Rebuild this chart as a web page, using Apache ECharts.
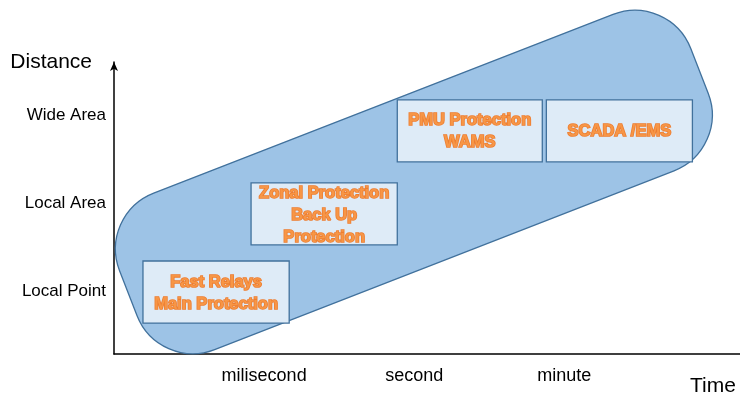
<!DOCTYPE html>
<html>
<head>
<meta charset="utf-8">
<style>
  html, body { margin: 0; padding: 0; background: #ffffff; }
  #chart { width: 740px; height: 393px; }
</style>
<script src="https://cdn.jsdelivr.net/npm/echarts@6/dist/echarts.min.js"></script>
</head>
<body>
<div id="chart"></div>
<script>
// Time scale tick labels (x) and distance scale tick labels (y)
const timeTicks = ['milisecond', 'second', 'minute'];
const distanceTicks = ['Local Point', 'Local Area', 'Wide Area'];
const tickValues = [1, 2, 3];

// Envelope band: centre of its lower-left end and of its upper-right end [time, distance]
const bandStart = [0.095, 0.98];
const bandEnd = [3.9, 3.5];

// Protection / control schemes and the time & distance span each covers
const schemeLabels = [
  'Fast Relays\nMain Protection',
  'Zonal Protection\nBack Up\nProtection',
  'PMU Protection\nWAMS',
  'SCADA /EMS'
];
const schemeTimeFrom = [0.193, 0.913, 1.887, 2.880];
const schemeTimeTo   = [1.167, 1.887, 2.853, 3.853];
const schemeDistFrom = [0.641, 1.526, 2.467, 2.467];
const schemeDistTo   = [1.344, 2.229, 3.170, 3.170];

const FONT = '"Liberation Sans", Arial, sans-serif';

const chart = echarts.init(document.getElementById('chart'), null, { renderer: 'canvas' });

const schemeData = schemeLabels.map((label, i) => [
  schemeTimeFrom[i], schemeTimeTo[i], schemeDistFrom[i], schemeDistTo[i], label
]);

chart.setOption({
  animation: false,
  backgroundColor: '#ffffff',
  grid: { left: 114, right: 0, top: 62, bottom: 39, containLabel: false, outerBoundsMode: 'none' },
  xAxis: {
    type: 'value',
    min: 0,
    max: 4.17,
    name: 'Time',
    nameLocation: 'end',
    nameGap: -50,
    nameTextStyle: {
      fontFamily: FONT, fontSize: 21, color: '#000',
      align: 'left', verticalAlign: 'top', padding: [22, 0, 0, 0]
    },
    axisLine: { show: true, lineStyle: { color: '#000', width: 1.5 } },
    axisTick: { show: false },
    splitLine: { show: false },
    axisLabel: {
      customValues: tickValues,
      formatter: v => timeTicks[Math.round(v) - 1] || '',
      fontFamily: FONT, fontSize: 18, color: '#000', margin: 13
    }
  },
  yAxis: {
    type: 'value',
    min: 0.29,
    max: 3.6,
    name: 'Distance',
    nameLocation: 'end',
    nameGap: 0,
    nameTextStyle: {
      fontFamily: FONT, fontSize: 21, color: '#000',
      align: 'right', verticalAlign: 'middle', padding: [0, 22, 0, 0]
    },
    axisLine: {
      show: true,
      symbol: ['none', 'arrow'],
      symbolSize: [6, 9],
      lineStyle: { color: '#000', width: 1.5 }
    },
    axisTick: { show: false },
    splitLine: { show: false },
    axisLabel: {
      customValues: tickValues,
      formatter: v => distanceTicks[Math.round(v) - 1] || '',
      fontFamily: FONT, fontSize: 17, color: '#000', margin: 8
    }
  },
  series: [
    {
      // rounded envelope running from fast local protection to slow wide-area control
      type: 'custom',
      z: 1,
      data: [[bandStart[0], bandStart[1], bandEnd[0], bandEnd[1]]],
      renderItem: function (params, api) {
        const p1 = api.coord([api.value(0), api.value(1)]);
        const p2 = api.coord([api.value(2), api.value(3)]);
        const dx = p2[0] - p1[0];
        const dy = p2[1] - p1[1];
        const len = Math.sqrt(dx * dx + dy * dy);
        const thick = 168;
        return {
          type: 'rect',
          x: (p1[0] + p2[0]) / 2,
          y: (p1[1] + p2[1]) / 2,
          rotation: Math.atan2(-dy, dx),
          shape: { x: -len / 2, y: -thick / 2, width: len, height: thick, r: 60 },
          style: { fill: '#9dc3e6', stroke: '#41719c', lineWidth: 1.3 }
        };
      }
    },
    {
      // scheme boxes with their labels
      type: 'custom',
      z: 3,
      data: schemeData,
      renderItem: function (params, api) {
        const tl = api.coord([api.value(0), api.value(3)]);
        const br = api.coord([api.value(1), api.value(2)]);
        const label = schemeData[params.dataIndex][4];
        return {
          type: 'group',
          children: [
            {
              type: 'rect',
              shape: { x: tl[0], y: tl[1], width: br[0] - tl[0], height: br[1] - tl[1] },
              style: { fill: '#deebf7', stroke: '#41719c', lineWidth: 1.3 }
            },
            {
              type: 'text',
              style: {
                text: label,
                x: (tl[0] + br[0]) / 2,
                y: (tl[1] + br[1]) / 2 + 1,
                textAlign: 'center',
                textVerticalAlign: 'middle',
                font: 'bold 16.5px ' + FONT,
                lineHeight: 22,
                fill: '#f79646',
                stroke: '#ed7d31',
                lineWidth: 1.6
              }
            }
          ]
        };
      }
    }
  ]
});
</script>
</body>
</html>
